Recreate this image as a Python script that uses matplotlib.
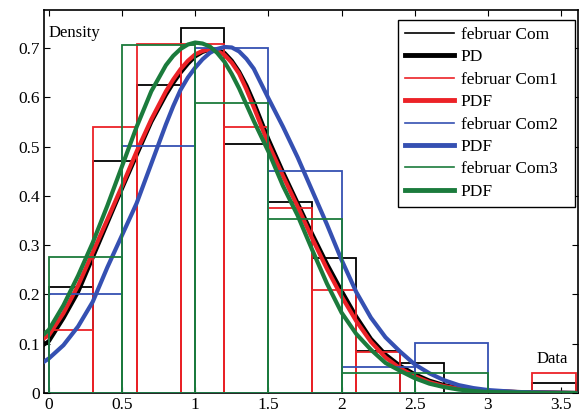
import matplotlib
matplotlib.use("Agg")
import matplotlib.pyplot as plt
from matplotlib.lines import Line2D
import numpy as np

plt.rcParams['font.family'] = ['Liberation Serif', 'DejaVu Serif']

# histogram bins (0.3 wide for Com/Com1, 0.5 wide for Com2/Com3)
edges_03 = [0.0, 0.3, 0.6, 0.9, 1.2, 1.5, 1.8, 2.1, 2.4, 2.7, 3.0, 3.3, 3.6]
edges_05 = [0.0, 0.5, 1.0, 1.5, 2.0, 2.5, 3.0]

hist_com = [0.215, 0.470, 0.625, 0.741, 0.506, 0.388, 0.273, 0.085, 0.060, 0.0, 0.0, 0.020]
hist_com1 = [0.127, 0.540, 0.709, 0.709, 0.540, 0.375, 0.209, 0.084, 0.0, 0.0, 0.0, 0.041]
hist_com2 = [0.201, 0.501, 0.699, 0.451, 0.053, 0.101]
hist_com3 = [0.275, 0.707, 0.588, 0.354, 0.041, 0.040]

# fitted density curves
x_pdf = [-0.05, 0.0, 0.1, 0.2, 0.3, 0.4, 0.5, 0.6, 0.7, 0.8, 0.85, 0.9, 0.95,
         1.0, 1.05, 1.1, 1.15, 1.2, 1.25, 1.3, 1.35, 1.4, 1.5, 1.6, 1.7, 1.8,
         1.9, 2.0, 2.1, 2.2, 2.3, 2.4, 2.5, 2.6, 2.7, 2.8, 2.9, 3.0, 3.2, 3.4, 3.6]
pdf_com = [0.095, 0.105, 0.152, 0.205, 0.275, 0.345, 0.415, 0.483, 0.550, 0.605,
           0.629, 0.650, 0.668, 0.683, 0.692, 0.697, 0.696, 0.690, 0.674, 0.652,
           0.624, 0.590, 0.515, 0.448, 0.385, 0.322, 0.262, 0.207, 0.155, 0.110,
           0.078, 0.055, 0.038, 0.025, 0.016, 0.010, 0.006, 0.004, 0.002, 0.001, 0.0]
pdf_com1 = [0.108, 0.117, 0.162, 0.218, 0.285, 0.352, 0.420, 0.490, 0.555, 0.612,
            0.636, 0.657, 0.674, 0.687, 0.694, 0.697, 0.694, 0.686, 0.670, 0.648,
            0.616, 0.580, 0.505, 0.440, 0.378, 0.313, 0.252, 0.196, 0.146, 0.104,
            0.072, 0.050, 0.034, 0.022, 0.014, 0.009, 0.006, 0.004, 0.002, 0.001, 0.0]
pdf_com2 = [0.060, 0.070, 0.097, 0.135, 0.185, 0.255, 0.320, 0.385, 0.465, 0.545,
            0.582, 0.615, 0.640, 0.660, 0.677, 0.690, 0.698, 0.702, 0.701, 0.693,
            0.678, 0.658, 0.598, 0.540, 0.478, 0.410, 0.342, 0.270, 0.205, 0.153,
            0.113, 0.084, 0.058, 0.040, 0.026, 0.016, 0.010, 0.006, 0.002, 0.001, 0.0]
pdf_com3 = [0.115, 0.128, 0.178, 0.238, 0.305, 0.380, 0.460, 0.540, 0.612, 0.665,
            0.684, 0.698, 0.707, 0.711, 0.709, 0.703, 0.690, 0.672, 0.647, 0.618,
            0.585, 0.552, 0.490, 0.420, 0.360, 0.290, 0.222, 0.163, 0.120, 0.088,
            0.061, 0.045, 0.030, 0.019, 0.012, 0.007, 0.004, 0.002, 0.001, 0.0, 0.0]

labels = ['februar Com', 'PD', 'februar Com1', 'PDF',
          'februar Com2', 'PDF', 'februar Com3', 'PDF']
colors = ['black', '#ec2227', '#3550b2', '#1b7b3c']

fig = plt.figure(figsize=(5.81, 4.12), dpi=100)
ax = fig.add_axes([0.0757, 0.0461, 0.9191, 0.9296])

series = [(edges_03, hist_com, pdf_com), (edges_03, hist_com1, pdf_com1),
          (edges_05, hist_com2, pdf_com2), (edges_05, hist_com3, pdf_com3)]

handles = []
z = 2
for (edges, h, pdf), c in zip(series, colors):
    left = np.array(edges[:-1])
    w = np.diff(edges)
    ax.bar(left, h, width=w, align='edge', fill=False, edgecolor=c,
           linewidth=1.3, zorder=z)
    ax.plot(x_pdf, pdf, color=c, linewidth=3.0, zorder=z + 1,
            solid_capstyle='round', solid_joinstyle='round')
    handles.append(Line2D([], [], color=c, linewidth=1.2))
    handles.append(Line2D([], [], color=c, linewidth=3.5))
    z += 2

ax.set_xlim(-0.033, 3.615)
ax.set_ylim(0, 0.777)
ax.set_xticks(np.arange(0, 3.6, 0.5))
ax.set_xticklabels(['0', '0.5', '1', '1.5', '2', '2.5', '3', '3.5'])
ax.set_yticks(np.arange(0, 0.75, 0.1))
ax.set_yticklabels(['0', '0.1', '0.2', '0.3', '0.4', '0.5', '0.6', '0.7'])
ax.tick_params(direction='in', top=True, right=True, length=4, width=0.8,
               labelsize=12.5, pad=3)
for s in ax.spines.values():
    s.set_linewidth(1.2)

ax.text(0.008, 0.961, 'Density', transform=ax.transAxes, fontsize=12,
        ha='left', va='top')
ax.text(0.982, 0.078, 'Data', transform=ax.transAxes, fontsize=12,
        ha='right', va='baseline')

# legend box spans roughly x 398..575 px in the reference
leg = ax.legend(handles, labels, loc='upper left',
                bbox_to_anchor=(0.663, 0.974, 0.331, 0.0), mode='expand',
                borderaxespad=0, fancybox=False, framealpha=1, edgecolor='black',
                fontsize=12.5, handlelength=2.8, labelspacing=0.36,
                handletextpad=0.4, borderpad=0.4)
leg.get_frame().set_linewidth(1.0)

fig.savefig('out.png', dpi=100)
